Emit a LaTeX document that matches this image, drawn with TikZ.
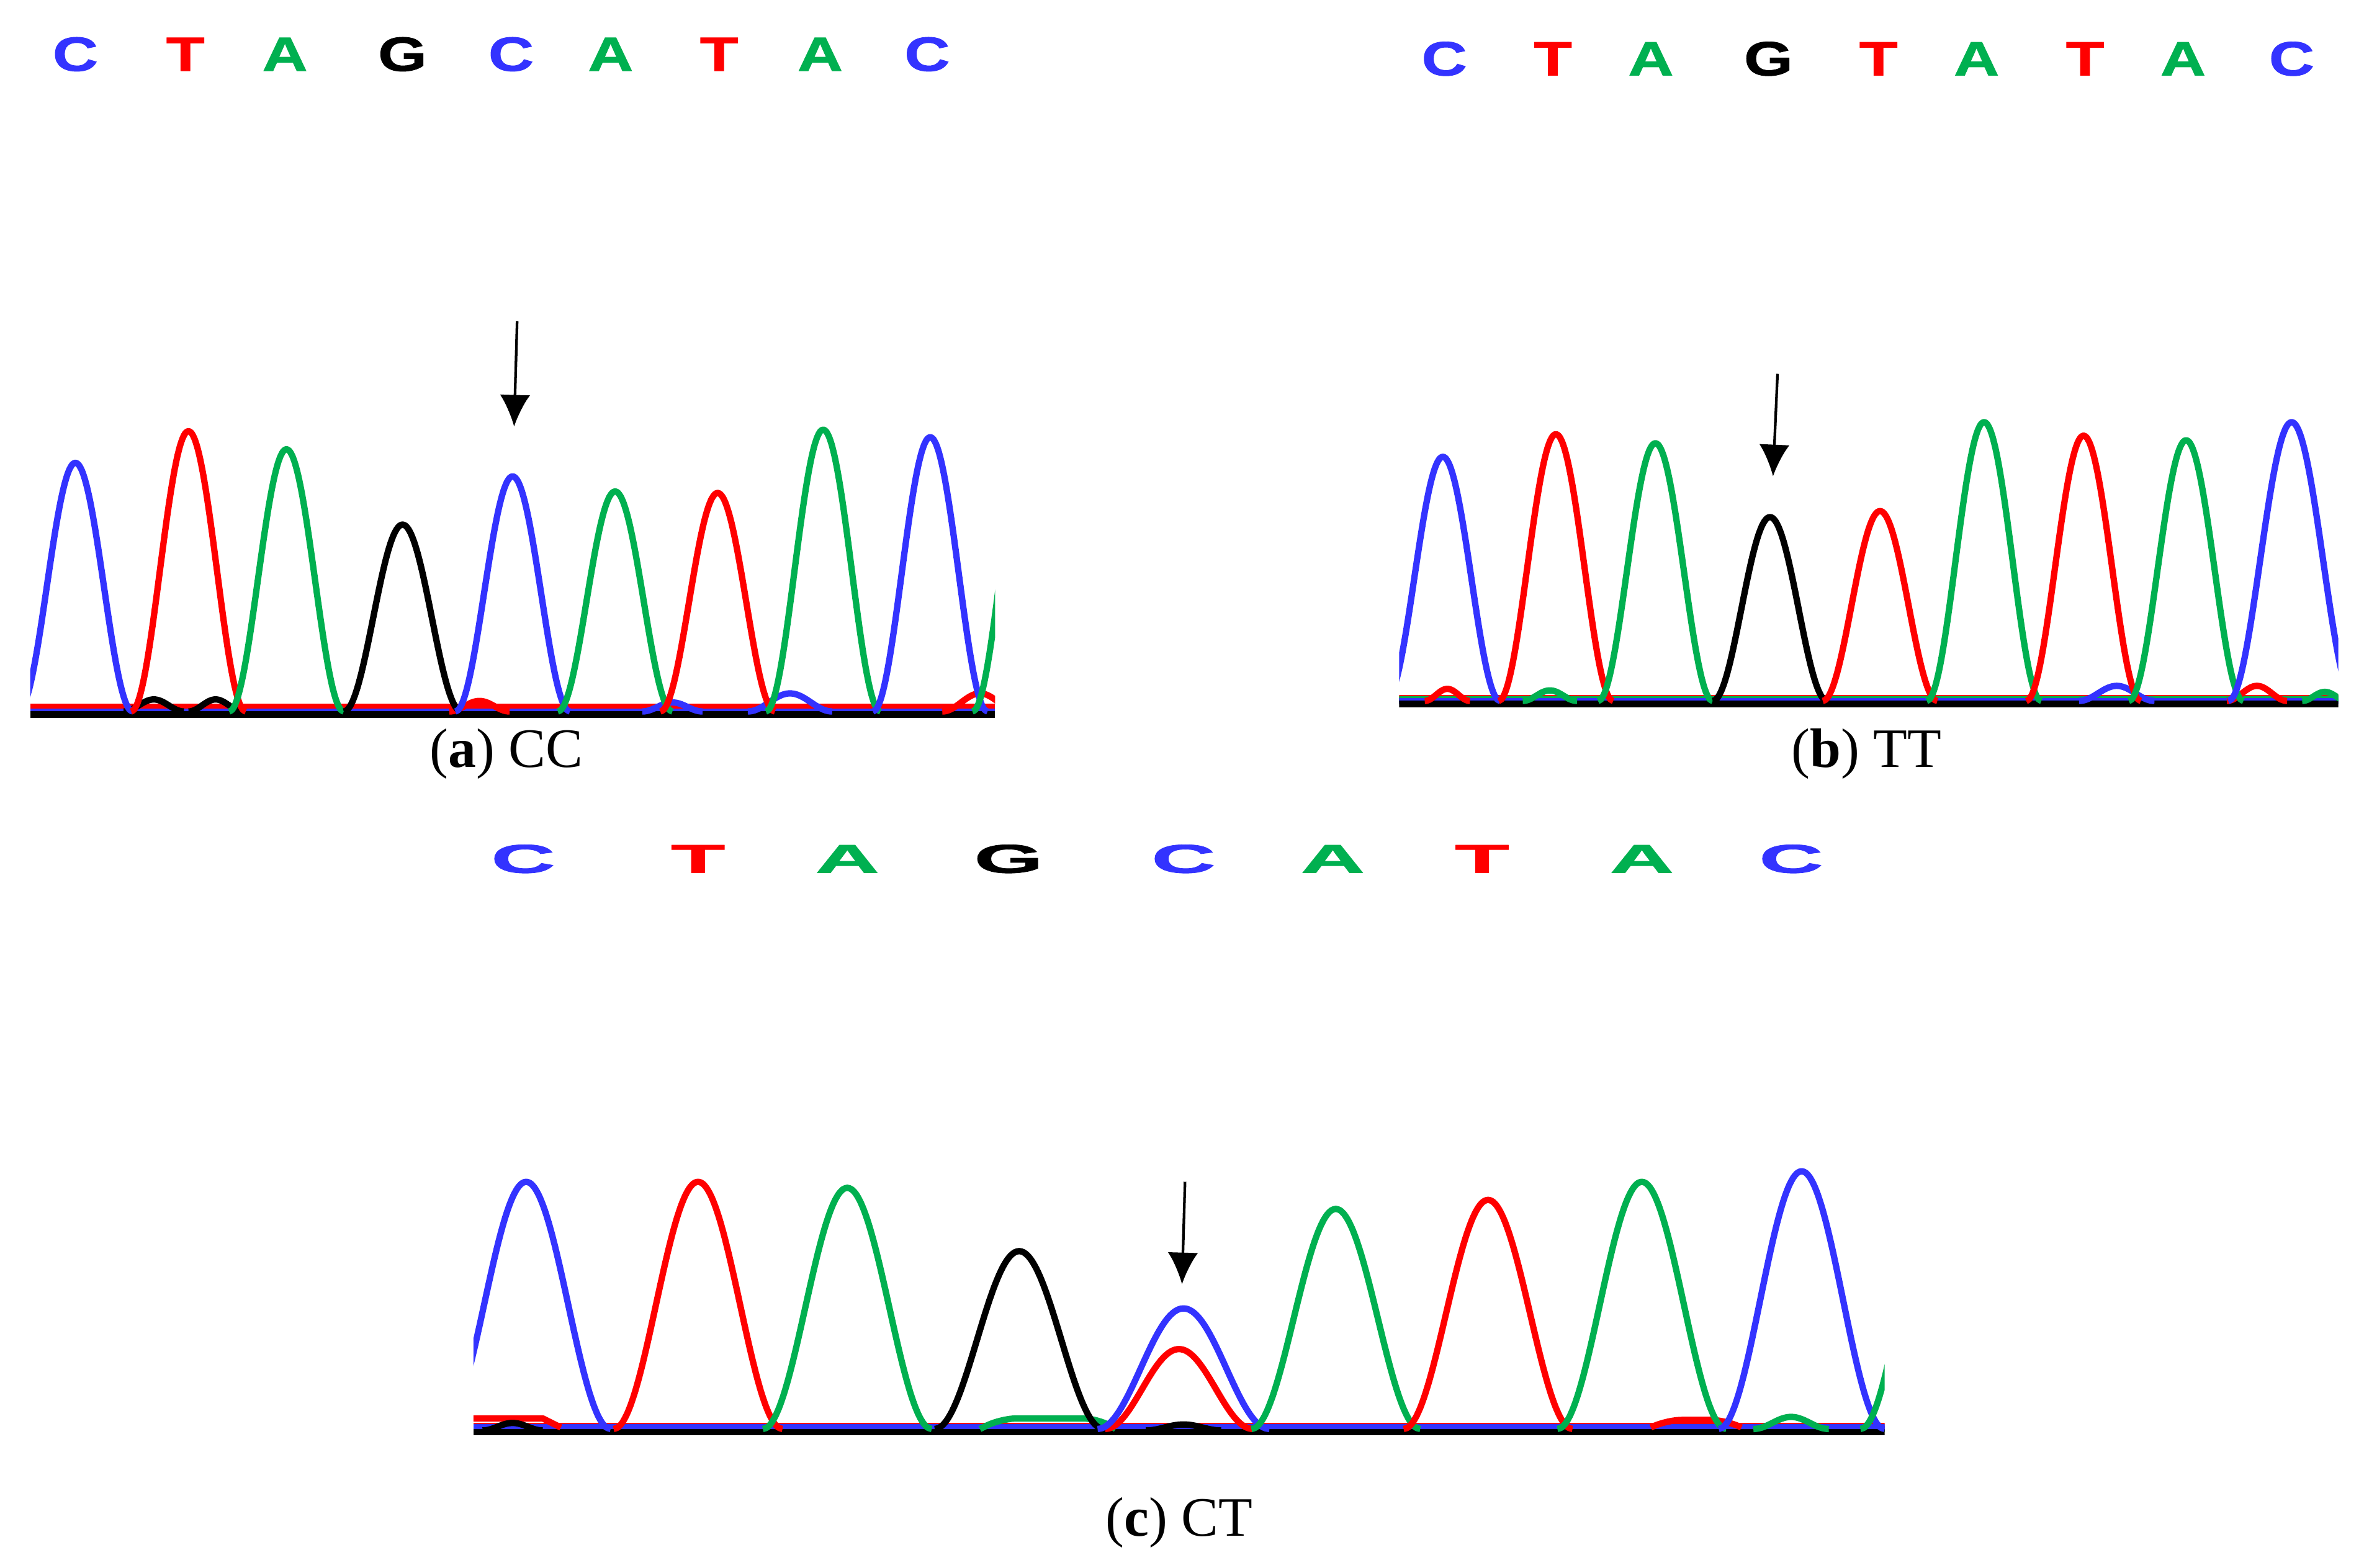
\documentclass[tikz,border=0pt]{standalone}
\usepackage{fontspec}
\setmainfont{Liberation Serif}
\newfontfamily\basefont[BoldFeatures={FakeBold=1.2}]{Liberation Sans}
\usetikzlibrary{arrows.meta}
\definecolor{tblue}{RGB}{51,51,255}
\definecolor{tred}{RGB}{255,0,0}
\definecolor{tgreen}{RGB}{0,176,80}
\tikzset{
  trace/.style={line width=1.2pt, line join=round},
  snp/.style={-{Latex[length=2.1mm,width=2mm]}, line width=0.5pt},
  nuc/.style={anchor=base, inner sep=0pt, font=\basefont\bfseries},
  caption/.style={inner sep=0pt, font=\fontsize{10.5}{12}\selectfont}
}
% one trace peak: colour, centre, baseline, height, half width
\newcommand{\peak}[5]{%
  \pgfmathsetmacro{\pkl}{#2-#5}%
  \pgfmathsetmacro{\pkr}{#2+#5}%
  \draw[trace,#1] plot[domain=\pkl:\pkr, samples=41, smooth] (\x,{#3-#4*(1+cos(180*(\x-#2)/#5))/2});%
}

\begin{document}
\begin{tikzpicture}[x=0.1mm, y=-0.1mm]
    \useasboundingbox (0,0) rectangle (1568,1040);

    % (a) CC
    \foreach \l/\c/\p [count=\i] in {C/tblue/50, T/tred/123, A/tgreen/189, G/black/267, C/tblue/339, A/tgreen/405, T/tred/477, A/tgreen/544, C/tblue/615}
      \node[nuc, text=\c] (a\i) at (\p,47) {\scalebox{1.3}[1]{\fontsize{9.1}{10}\selectfont\l}};
    \begin{scope}
      \clip (20,150) rectangle (660,490);
      \draw[trace, tgreen] (20,471) -- (660,471);
      \draw[trace, tred] (20,469) -- (660,469);
      \draw[trace, tblue] (20,472) -- (660,472);
      \draw[trace, black] (20,474) -- (660,474);
      \peak{black}{102}{472}{8}{20}
      \peak{black}{143}{472}{8}{18}
      \peak{tred}{318}{472}{7}{20}
      \peak{tblue}{446}{472}{6}{20}
      \peak{tblue}{524}{472}{12}{28}
      \peak{tred}{650}{472}{12}{25}
      \peak{tblue}{50}{472}{165}{38}
      \peak{tred}{125}{472}{186}{38}
      \peak{tgreen}{190}{472}{174}{38}
      \peak{black}{267}{472}{124}{39}
      \peak{tblue}{340}{472}{156}{38}
      \peak{tgreen}{408}{472}{146}{38}
      \peak{tred}{476}{472}{145}{38}
      \peak{tgreen}{546}{472}{187}{38}
      \peak{tblue}{617}{472}{182}{38}
      \peak{tgreen}{683}{472}{190}{38}
    \end{scope}
    \coordinate (topA) at (343,213);
    \coordinate (snpA) at (341,283);
    \draw[snp] (topA) -- (snpA);
    \node[caption] (capA) at (336,500) {(\textbf{a}) CC};

    % (b) TT
    \foreach \l/\c/\p [count=\i] in {C/tblue/958, T/tred/1030, A/tgreen/1095, G/black/1173, T/tred/1246, A/tgreen/1311, T/tred/1383, A/tgreen/1448, C/tblue/1520}
      \node[nuc, text=\c] (b\i) at (\p,50) {\scalebox{1.3}[1]{\fontsize{9.1}{10}\selectfont\l}};
    \begin{scope}
      \clip (928,150) rectangle (1551,490);
      \draw[trace, tred] (928,463) -- (1551,463);
      \draw[trace, tgreen] (928,464) -- (1551,464);
      \draw[trace, tblue] (928,465) -- (1551,465);
      \draw[trace, black] (928,467) -- (1551,467);
      \peak{tred}{960}{465}{8}{15}
      \peak{tgreen}{1028}{465}{7}{18}
      \peak{tblue}{1404}{465}{10}{25}
      \peak{tred}{1497}{465}{10}{20}
      \peak{tgreen}{1542}{465}{6}{15}
      \peak{tblue}{957}{465}{162}{38}
      \peak{tred}{1032}{465}{177}{38}
      \peak{tgreen}{1098}{465}{171}{38}
      \peak{black}{1174}{465}{122}{38}
      \peak{tred}{1247}{465}{126}{38}
      \peak{tgreen}{1316}{465}{185}{38}
      \peak{tred}{1382}{465}{176}{38}
      \peak{tgreen}{1450}{465}{173}{38}
      \peak{tblue}{1520}{465}{185}{42}
    \end{scope}
    \coordinate (topB) at (1179,248);
    \coordinate (snpB) at (1176,316);
    \draw[snp] (topB) -- (snpB);
    \node[caption] (capB) at (1238,500) {(\textbf{b}) TT};

    % (c) CT
    \foreach \l/\c/\p [count=\i] in {C/tblue/347, T/tred/463, A/tgreen/562, G/black/669, C/tblue/785, A/tgreen/884, T/tred/983, A/tgreen/1089, C/tblue/1188}
      \node[nuc, text=\c] (c\i) at (\p,579) {\scalebox{2.2}[1]{\fontsize{7.6}{9}\selectfont\l}};
    \begin{scope}
      \clip (314,650) rectangle (1250,970);
      \draw[trace, tgreen] (314,948) -- (1250,948);
      \draw[trace, tred] (314,946) -- (1250,946);
      \draw[trace, tblue] (314,947) -- (1250,947);
      \draw[trace, black] (314,950) -- (1250,950);
      \draw[trace, tred] (314,941) -- (360,941) -- (372,947);
      \draw[trace, tgreen, rounded corners=3pt] (650,948) -- (664,941) -- (729,941) -- (740,948);
      \draw[trace, tred, rounded corners=3pt] (1095,947) -- (1105,942) -- (1145,942) -- (1155,947);
      \peak{black}{340}{949}{5}{20}
      \peak{black}{785}{949}{4}{25}
      \peak{tgreen}{1188}{948}{8}{25}
      \peak{tblue}{349}{948}{164}{56}
      \peak{tred}{463}{948}{164}{56}
      \peak{tgreen}{562}{948}{160}{56}
      \peak{black}{676}{948}{118}{56}
      \peak{tred}{782}{948}{53}{49}
      \peak{tblue}{785}{948}{80}{57}
      \peak{tgreen}{886}{948}{146}{56}
      \peak{tred}{987}{948}{152}{56}
      \peak{tgreen}{1089}{948}{164}{56}
      \peak{tblue}{1195}{948}{171}{55}
      \peak{tgreen}{1290}{948}{180}{56}
    \end{scope}
    \coordinate (topC) at (786,784);
    \coordinate (snpC) at (784,852);
    \draw[snp] (topC) -- (snpC);
    \node[caption] (capC) at (782,1010) {(\textbf{c}) CT};
\end{tikzpicture}
\end{document}
